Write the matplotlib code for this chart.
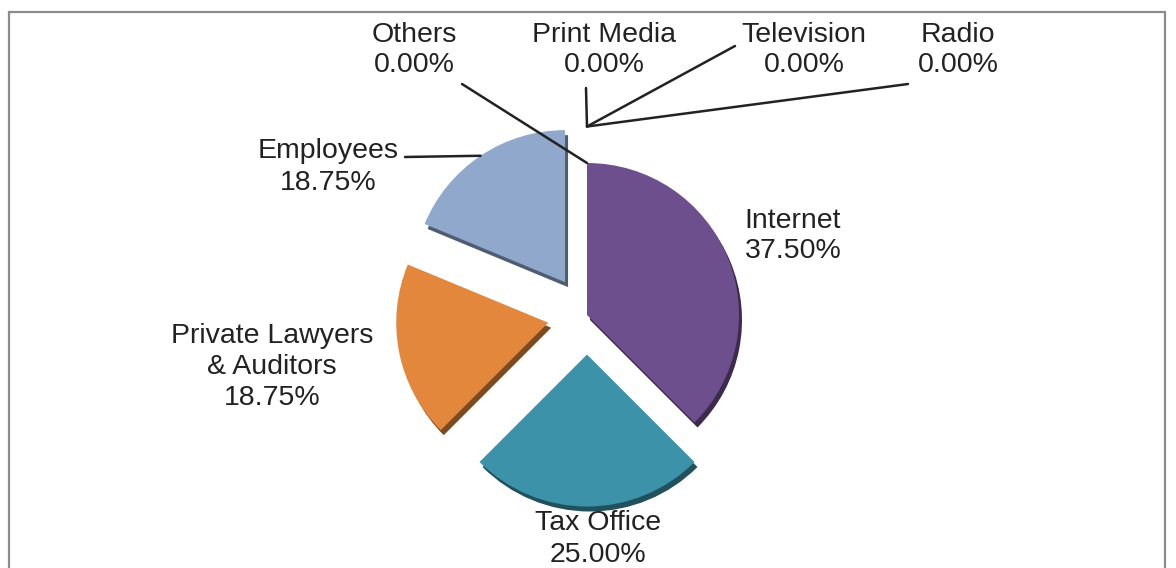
import numpy as np
import matplotlib.pyplot as plt
from matplotlib.patches import Rectangle
from matplotlib.colors import to_rgb

# -- Data ---------------------------------------------------------------------
categories = ['Internet', 'Tax Office', 'Private Lawyers\n& Auditors', 'Employees',
              'Others', 'Print Media', 'Television', 'Radio']
shares = [37.5, 25.0, 18.75, 18.75, 0.0, 0.0, 0.0, 0.0]
colors = ['#6E4F8E', '#3C93A9', '#E2873C', '#91A8CD',
          '#9F9F9F', '#9F9F9F', '#9F9F9F', '#9F9F9F']
explode = [0.0, 0.26, 0.26, 0.26, 0.0, 0.0, 0.0, 0.0]

# -- Layout (pixel units, y up) -----------------------------------------------
W, H = 1176, 568
center = (587, 253)
radius = 152
font = 'Liberation Sans'
fsize = 20.5
txtcolor = '#222222'

# where each label sits, and where a leader line starts
label_pos = {
    'Internet': (793, 332),
    'Tax Office': (598, 29),
    'Private Lawyers\n& Auditors': (272, 201),
    'Employees': (328, 401),
    'Others': (414, 518),
    'Print Media': (604, 518),
    'Television': (804, 518),
    'Radio': (958, 518),
}
leader_start = {
    'Employees': (405, 411),
    'Others': (462, 484),
    'Print Media': (586, 480),
    'Television': (735, 522),
    'Radio': (908, 484),
}
# zero slices get pulled further out so their lines meet above the pie
leader_reach = {'Employees': 1.0, 'Others': 1.0,
                'Print Media': 1.24, 'Television': 1.24, 'Radio': 1.24}


def darker(c, f=0.55):
    return tuple(v * f for v in to_rgb(c))


# pie() takes explode in data units, not as a fraction of the radius
offsets = [e * radius for e in explode]

fig = plt.figure(figsize=(W / 100, H / 100), dpi=100)
ax = fig.add_axes([0, 0, 1, 1])

# shadow underneath, then the slices themselves
ax.pie(shares, explode=offsets, colors=[darker(c) for c in colors],
       startangle=90, counterclock=False, radius=radius,
       center=(center[0] + 3, center[1] - 5),
       wedgeprops=dict(linewidth=0))
wedges, _ = ax.pie(shares, explode=offsets, colors=colors,
                   startangle=90, counterclock=False, radius=radius,
                   center=center, wedgeprops=dict(linewidth=0))

total = sum(shares)
for w, name, v, ex in zip(wedges, categories, shares, explode):
    x, y = label_pos[name]
    ax.text(x, y, f'{name}\n{v / total * 100:.2f}%', ha='center', va='center',
            fontsize=fsize, family=font, color=txtcolor, linespacing=1.25)
    if name in leader_start:
        mid = np.deg2rad((w.theta1 + w.theta2) / 2)
        reach = (ex + leader_reach[name]) * radius
        ex_pt = (center[0] + reach * np.cos(mid), center[1] + reach * np.sin(mid))
        sx, sy = leader_start[name]
        ax.plot([sx, ex_pt[0]], [sy, ex_pt[1]], color=txtcolor, lw=1.8,
                solid_capstyle='round')

# grey frame round the chart area
ax.add_patch(Rectangle((9, -10), 1156, H - 12 + 10, fill=False,
                       edgecolor='#8C8C8C', lw=1.6, clip_on=False))

ax.set_xlim(0, W)
ax.set_ylim(0, H)
ax.set_aspect('equal')
ax.axis('off')

fig.savefig('out.png', dpi=100, facecolor='white')
